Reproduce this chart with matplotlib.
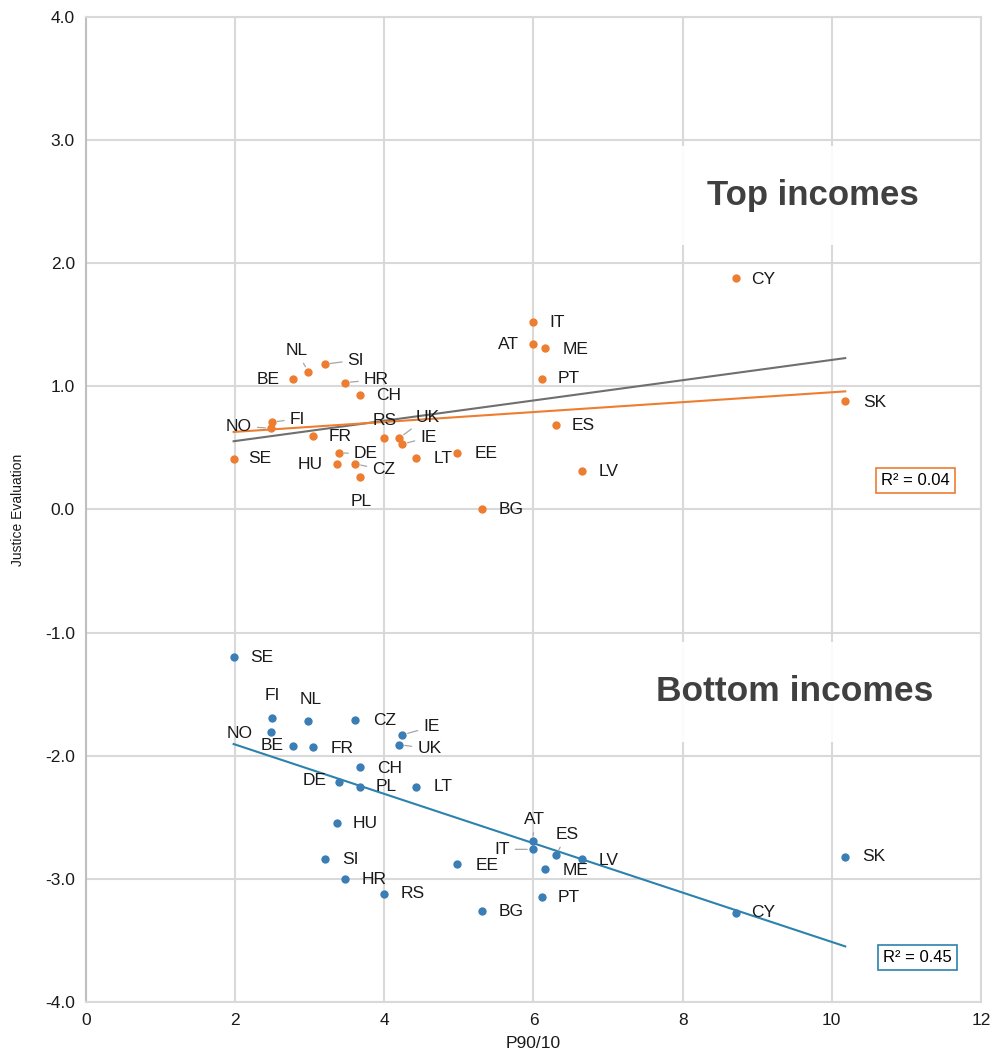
import numpy as np
import matplotlib
matplotlib.use("Agg")
import matplotlib.pyplot as plt

plt.rcParams["font.family"] = ["Liberation Sans", "DejaVu Sans"]

countries = ["SE", "NO", "FI", "BE", "NL", "SI", "HR", "CH", "FR", "DE", "HU", "CZ", "PL", "RS",
             "UK", "IE", "LT", "EE", "BG", "IT", "AT", "ME", "PT", "ES", "LV", "CY", "SK"]
p90_10 = [1.98, 2.48, 2.49, 2.78, 2.98, 3.20, 3.47, 3.67, 3.04, 3.39, 3.36, 3.61, 3.67, 3.99,
          4.20, 4.24, 4.43, 4.98, 5.31, 5.99, 5.99, 6.16, 6.11, 6.30, 6.65, 8.71, 10.18]
top_eval = [0.41, 0.66, 0.71, 1.06, 1.12, 1.18, 1.03, 0.93, 0.60, 0.46, 0.37, 0.37, 0.26, 0.58,
            0.58, 0.53, 0.42, 0.46, 0.00, 1.52, 1.34, 1.31, 1.06, 0.69, 0.31, 1.88, 0.88]
bottom_eval = [-1.20, -1.81, -1.69, -1.92, -1.72, -2.84, -3.00, -2.09, -1.93, -2.21, -2.55, -1.71,
               -2.25, -3.12, -1.91, -1.83, -2.25, -2.88, -3.26, -2.76, -2.69, -2.92, -3.15, -2.81,
               -2.84, -3.28, -2.82]
# orange trend as shown on the chart (intercept, slope) - not an OLS on the points above
top_trend = (0.55, 0.0402)
r2_top = "R\u00b2 = 0.04"
r2_bottom = "R\u00b2 = 0.45"

ORANGE = "#ed7d31"
BLUE = "#3b7db5"
BLUE_LINE = "#2b83ad"
GREY = "#6f6f6f"
LEADER = "#a6a6a6"

# label offsets in pixels (dx, dy down), alignment, leader line
top_labels = {
    "SE": (15, 0, "left", False), "NO": (-19, -2, "right", True), "FI": (18, -3, "left", True),
    "BE": (-14, 1, "right", False), "NL": (-12, -21, "center", True), "SI": (23, -4, "left", True),
    "HR": (19, -3, "left", True), "CH": (16, 1, "left", False), "FR": (16, 1, "left", False),
    "DE": (15, 1, "left", True), "HU": (-14, 1, "right", False), "CZ": (17, 6, "left", True),
    "PL": (1, 24, "center", False), "RS": (1, -18, "center", False), "UK": (16, -21, "left", True),
    "IE": (18, -7, "left", True), "LT": (17, 1, "left", False), "EE": (17, 1, "left", False),
    "BG": (17, 0, "left", False), "IT": (17, 0, "left", False), "AT": (-14, 0, "right", False),
    "ME": (17, 1, "left", False), "PT": (16, 0, "left", False), "ES": (16, 1, "left", False),
    "LV": (17, 0, "left", False), "CY": (16, 2, "left", False), "SK": (18, 1, "left", False),
}
bottom_labels = {
    "SE": (17, 0, "left", False), "FI": (1, -22, "center", False), "NO": (-18, 1, "right", False),
    "NL": (2, -22, "center", False), "CZ": (18, 0, "left", False), "IE": (21, -8, "left", True),
    "UK": (18, 4, "left", True), "BE": (-10, 0, "right", False), "FR": (18, 1, "left", False),
    "CH": (17, 2, "left", False), "DE": (-12, -1, "right", False), "PL": (16, 0, "left", False),
    "LT": (17, 0, "left", False), "HU": (16, 0, "left", False), "SI": (18, 0, "left", False),
    "HR": (17, 1, "left", False), "RS": (17, 0, "left", False), "EE": (18, 1, "left", False),
    "BG": (17, 1, "left", False), "AT": (2, -21, "center", True), "IT": (-23, 0, "right", True),
    "ES": (11, -21, "center", True), "LV": (17, 1, "left", False), "ME": (17, 1, "left", False),
    "PT": (16, 0, "left", False), "CY": (16, -1, "left", False), "SK": (17, 0, "left", False),
}


def add_labels(ax, xs, ys, specs):
    for name, x, y in zip(countries, xs, ys):
        dx, dy, ha, leader = specs[name]
        props = None
        if leader:
            props = dict(arrowstyle="-", color=LEADER, lw=0.9, shrinkA=2, shrinkB=4)
        ax.annotate(name, (x, y), xytext=(dx, -dy), textcoords="offset pixels",
                    ha=ha, va="center", fontsize=12.5, color="#1a1a1a", arrowprops=props)


def trend(ax, xs, ys, color, coef=None):
    xs = np.asarray(xs)
    if coef is None:
        k, b = np.polyfit(xs, ys, 1)
    else:
        b, k = coef
    xx = np.array([xs.min(), xs.max()])
    ax.plot(xx, k * xx + b, color=color, lw=1.5, zorder=2)


fig = plt.figure(figsize=(9.95, 10.59), dpi=100)
ax = fig.add_axes([0.0864, 0.0538, 0.8995, 0.9302])

x = np.array(p90_10)
top = np.array(top_eval)
bot = np.array(bottom_eval)

trend(ax, x, top, GREY)
trend(ax, x, top, ORANGE, top_trend)
trend(ax, x, bot, BLUE_LINE)

ax.scatter(x, top, s=36, color=ORANGE, zorder=3, linewidths=0)
ax.scatter(x, bot, s=36, color=BLUE, zorder=3, linewidths=0)

add_labels(ax, x, top, top_labels)
add_labels(ax, x, bot, bottom_labels)

ax.set_xlim(0, 12)
ax.set_ylim(-4, 4)
ax.set_xticks(range(0, 13, 2))
ax.set_yticks(np.arange(-4, 4.1, 1))
ax.set_yticklabels([f"{v:.1f}" for v in np.arange(-4, 4.1, 1)])
ax.tick_params(length=0, labelsize=12.5, colors="#1a1a1a", pad=8)
ax.grid(True, color="#d9d9d9", lw=1.5)
ax.set_axisbelow(True)
for sp in ax.spines.values():
    sp.set_color("#d9d9d9")
    sp.set_linewidth(1.5)
ax.spines["left"].set_color("#bfbfbf")

ax.set_xlabel("P90/10", fontsize=12.5, color="#1a1a1a", labelpad=6)
ax.set_ylabel("Justice Evaluation", fontsize=10, color="#1a1a1a", labelpad=14)

box = dict(facecolor="white", edgecolor="none", alpha=0.9, pad=24)
ax.text(9.75, 2.55, "Top incomes", fontsize=25, fontweight="bold", color="#404040",
        ha="center", va="center", bbox=box, zorder=4)
ax.text(9.5, -1.48, "Bottom incomes", fontsize=25.5, fontweight="bold", color="#404040",
        ha="center", va="center", bbox=box, zorder=4)

ax.text(11.12, 0.235, r2_top, fontsize=12, ha="center", va="center", zorder=5,
        bbox=dict(facecolor="white", edgecolor=ORANGE, lw=1.2, boxstyle="square,pad=0.3"))
ax.text(11.15, -3.64, r2_bottom, fontsize=12, ha="center", va="center", zorder=5,
        bbox=dict(facecolor="white", edgecolor=BLUE_LINE, lw=1.2, boxstyle="square,pad=0.3"))

plt.savefig("out.png", dpi=100)
